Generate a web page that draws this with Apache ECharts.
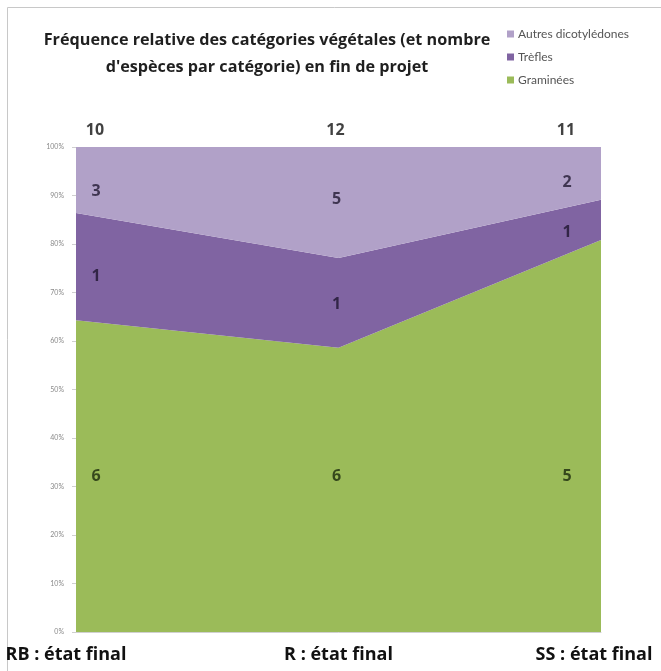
<!DOCTYPE html>
<html>
<head>
<meta charset="utf-8">
<script src="https://cdn.jsdelivr.net/npm/echarts@6/dist/echarts.min.js"></script>
<style>
  html, body { margin: 0; padding: 0; background: #fff; }
  #chart { width: 661px; height: 671px; }
</style>
</head>
<body>
<div id="chart"></div>
<script>
// ---- data ----
const categories = ['RB : état final', 'R : état final', 'SS : état final'];
const seriesNames = ['Graminées', 'Trèfles', 'Autres dicotylédones'];
// relative frequency (%) per category
const graminees = [64.3, 58.6, 80.8];
const trefles = [22.1, 18.5, 8.3];
const autres = [13.6, 22.9, 10.9];
// number of species per category (labels)
const nbGraminees = [6, 6, 5];
const nbTrefles = [1, 1, 1];
const nbAutres = [3, 5, 2];
const nbTotal = [10, 12, 11];
const yTicks = [0, 10, 20, 30, 40, 50, 60, 70, 80, 90, 100];

// ---- styles ----
const colGreen = '#9bbb59';
const colTrefles = '#8064a2';
const colAutres = '#b1a1c8';
const boldFont = '"Open Sans", sans-serif';
const textFont = 'Lato, "Open Sans", sans-serif';
const colDx = [20, -2, -34];
const catPad = [[0, 20, 0, 0], [0, 0, 0, 0], [0, 14, 0, 0]];

const chart = echarts.init(document.getElementById('chart'), null, { renderer: 'canvas' });

function areaSeries(name, data, color) {
  return {
    name, type: 'line', stack: 'total', data,
    symbol: 'none', lineStyle: { width: 0 },
    areaStyle: { color, opacity: 1 }, itemStyle: { color },
    z: 2
  };
}

// label anchor = middle of each band (computed from the data)
const midG = graminees.map(() => 32);
const midT = trefles.map((v, i) => graminees[i] + v / 2);
const midA = autres.map((v, i) => graminees[i] + trefles[i] + v / 2);

function labelSeries(mids, counts, dys, color) {
  return {
    type: 'scatter', symbolSize: 0, silent: true, z: 5,
    data: mids.map((m, i) => ({
      value: m,
      label: { offset: [colDx[i], dys[i]] }
    })),
    label: {
      show: true, position: 'inside',
      formatter: p => String(counts[p.dataIndex]),
      fontFamily: boldFont, fontWeight: 'bold', fontSize: 16, color
    },
    tooltip: { show: false }
  };
}

const option = {
  animation: false,
  backgroundColor: '#ffffff',
  title: {
    text: 'Fréquence relative des catégories végétales (et nombre\nd\'espèces par catégorie) en fin de projet',
    left: 262, textAlign: 'center', top: 22,
    textStyle: {
      fontFamily: boldFont, fontWeight: 'bold', fontSize: 16.2,
      color: '#1f1f1f', lineHeight: 27, letterSpacing: -0.35
    }
  },
  legend: {
    orient: 'vertical', left: 502, top: 23,
    itemWidth: 7, itemHeight: 7, itemGap: 11,
    data: ['Autres dicotylédones', 'Trèfles', 'Graminées'],
    textStyle: { fontFamily: textFont, fontSize: 12, color: '#555', padding: [0, 0, 0, -1] },
    icon: 'rect'
  },
  graphic: [{
    type: 'rect', silent: true, z: -1,
    shape: { x: 7.5, y: 7.5, width: 700, height: 700 },
    style: { fill: 'none', stroke: '#c8c8c8', lineWidth: 1 }
  }],
  grid: { left: 76, right: 60, top: 147, bottom: 39 },
  xAxis: {
    type: 'category',
    data: categories.map((c, i) => ({ value: c, textStyle: { padding: catPad[i] } })),
    boundaryGap: false,
    axisLine: { show: true, lineStyle: { color: '#d0d0d0' } },
    axisTick: { show: false },
    axisLabel: {
      interval: 0, margin: 14, fontFamily: boldFont, fontWeight: 'bold',
      fontSize: 18, color: '#111', letterSpacing: -0.4
    },
    z: 10
  },
  yAxis: {
    type: 'value', min: 0, max: 100, interval: 10,
    axisLine: { show: false },
    axisTick: { show: true, length: 4, lineStyle: { color: '#cfcfcf' } },
    splitLine: { show: true, lineStyle: { color: '#e6e6e6' } },
    axisLabel: {
      formatter: v => yTicks.includes(v) ? v + '%' : '',
      fontFamily: textFont, fontSize: 7, color: '#8a8a8a', margin: 12
    }
  },
  series: [
    areaSeries('Graminées', graminees, colGreen),
    areaSeries('Trèfles', trefles, colTrefles),
    areaSeries('Autres dicotylédones', autres, colAutres),
    labelSeries(midG, nbGraminees, [0, 0, 0], '#1c2a0c'),
    labelSeries(midT, nbTrefles, [10, 2, 12], '#1e1530'),
    labelSeries(midA, nbAutres, [11, -3, 9], '#231a33'),
    {
      type: 'scatter', symbolSize: 0, silent: true, z: 5,
      data: nbTotal.map((n, i) => ({ value: 100, label: { offset: [colDx[i] - 1, 0] } })),
      label: {
        show: true, position: 'top', distance: 9,
        formatter: p => String(nbTotal[p.dataIndex]),
        fontFamily: boldFont, fontWeight: 'bold', fontSize: 16, color: '#111'
      }
    }
  ]
};
chart.setOption(option);
</script>
</body>
</html>
